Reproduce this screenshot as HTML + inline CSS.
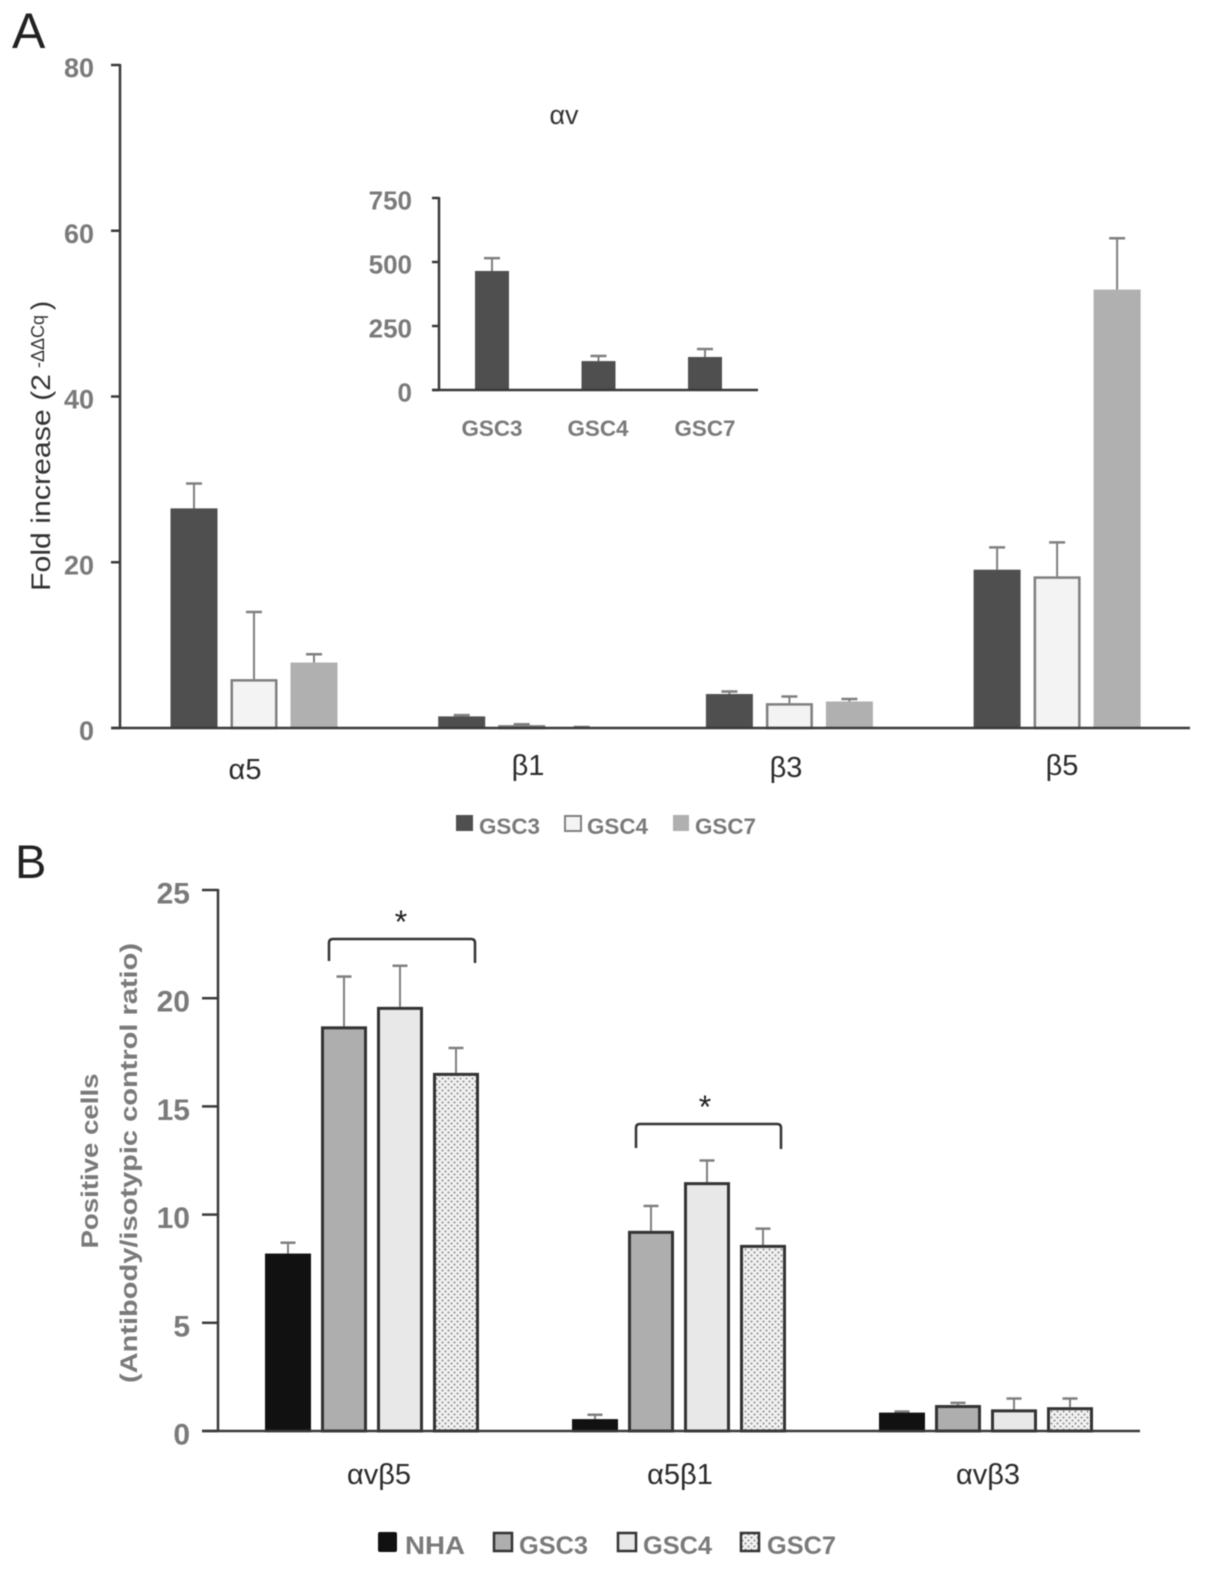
<!DOCTYPE html>
<html lang="en">
<head>
<meta charset="utf-8">
<title>Integrin expression charts</title>
<style>
html,body{margin:0;padding:0;background:#fff;}
svg{display:block;font-family:"Liberation Sans",sans-serif;filter:blur(0.5px);}
.tick{font-weight:700;fill:#7a7a7a;text-anchor:end;}
.cat{fill:#2b2b2b;font-size:29px;text-anchor:middle;}
.leg{font-weight:700;fill:#7a7a7a;}
</style>
</head>
<body>
<svg id="fig" xmlns="http://www.w3.org/2000/svg" width="1205" height="1569" viewBox="0 0 1205 1569">
  <defs>
    <pattern id="dots" width="6" height="6" patternUnits="userSpaceOnUse">
      <rect width="6" height="6" fill="#f1f1f1"/>
      <circle cx="1.5" cy="1.5" r="1" fill="#8c8c8c"/>
      <circle cx="4.5" cy="4.5" r="1" fill="#8c8c8c"/>
    </pattern>
  </defs>
  <rect width="1205" height="1569" fill="#fff"/>

  <text x="12" y="48" font-size="50" fill="#222">A</text>
  <text x="15" y="878" font-size="47" fill="#222">B</text>

  <text transform="translate(50,591) rotate(-90)" font-size="27" fill="#333"><tspan textLength="217" lengthAdjust="spacingAndGlyphs">Fold increase (2</tspan><tspan font-size="18" dy="-6" dx="6">-ΔΔCq</tspan><tspan dy="6" dx="5">)</tspan></text>

  <text x="564" y="124" font-size="27" fill="#333" text-anchor="middle">αv</text>

  <g>
    <text class="cat" x="245" y="779">α5</text>
    <text class="cat" x="528" y="775">β1</text>
    <text class="cat" x="786" y="777">β3</text>
    <text class="cat" x="1062" y="775">β5</text>
  </g>

  <g font-weight="700" fill="#7a7a7a" font-size="22" text-anchor="middle">
    <text x="492" y="436" textLength="61" lengthAdjust="spacingAndGlyphs">GSC3</text>
    <text x="598" y="436" textLength="61" lengthAdjust="spacingAndGlyphs">GSC4</text>
    <text x="705" y="436" textLength="61" lengthAdjust="spacingAndGlyphs">GSC7</text>
  </g>

  <g>
    <rect x="456" y="815" width="17" height="16" fill="#4f4f4f"/>
    <text class="leg" x="479" y="834" font-size="22" textLength="61" lengthAdjust="spacingAndGlyphs">GSC3</text>
    <rect x="565" y="816" width="16" height="15" fill="#f4f4f4" stroke="#808080" stroke-width="2"/>
    <text class="leg" x="587" y="834" font-size="22" textLength="61" lengthAdjust="spacingAndGlyphs">GSC4</text>
    <rect x="673" y="815" width="16" height="16" fill="#b0b0b0"/>
    <text class="leg" x="695" y="834" font-size="22" textLength="61" lengthAdjust="spacingAndGlyphs">GSC7</text>
  </g>

  <g font-weight="700" fill="#7a7a7a" font-size="24" text-anchor="middle">
    <text transform="translate(98,1161) rotate(-90)" textLength="175" lengthAdjust="spacingAndGlyphs">Positive cells</text>
    <text transform="translate(137,1163) rotate(-90)" textLength="440" lengthAdjust="spacingAndGlyphs">(Antibody/isotypic control ratio)</text>
  </g>

  <g fill="none" stroke="#333" stroke-width="2.5">
    <path d="M329 961 V943 Q329 939 333 939 H471 Q475 939 475 943 V963"/>
    <path d="M636 1148 V1128 Q636 1124 640 1124 H777 Q781 1124 781 1128 V1149"/>
  </g>
  <text x="401" y="933" font-size="32" fill="#222" text-anchor="middle">*</text>
  <text x="705" y="1118" font-size="32" fill="#222" text-anchor="middle">*</text>

  <g>
    <text class="cat" x="379" y="1484">αvβ5</text>
    <text class="cat" x="680" y="1484">α5β1</text>
    <text class="cat" x="988" y="1484">αvβ3</text>
  </g>

  <g>
    <rect x="378" y="1532" width="19" height="20" rx="2" fill="#111"/>
    <text class="leg" x="405" y="1554" font-size="25" textLength="60" lengthAdjust="spacingAndGlyphs">NHA</text>
    <rect x="494" y="1533" width="18" height="18" fill="#aeaeae" stroke="#333" stroke-width="2.5"/>
    <text class="leg" x="519" y="1554" font-size="25" textLength="69" lengthAdjust="spacingAndGlyphs">GSC3</text>
    <rect x="618" y="1533" width="18" height="18" fill="#e8e8e8" stroke="#333" stroke-width="2.5"/>
    <text class="leg" x="643" y="1554" font-size="25" textLength="69" lengthAdjust="spacingAndGlyphs">GSC4</text>
    <rect x="741" y="1533" width="18" height="18" fill="url(#dots)" stroke="#333" stroke-width="2.5"/>
    <text class="leg" x="767" y="1554" font-size="25" textLength="69" lengthAdjust="spacingAndGlyphs">GSC7</text>
  </g>

  <g id="plots"></g>
</svg>
<script>
// Panel A main chart
const aCategories = ['alpha5', 'beta1', 'beta3', 'beta5'];
const aSeriesNames = ['gsc3', 'gsc4', 'gsc7'];
const aGsc3 = [26.5, 1.4, 4.1, 19.1];
const aGsc4 = [5.9, 0.35, 3.0, 18.3];
const aGsc7 = [7.9, 0.1, 3.2, 52.9];
const aGsc3Err = [29.5, 1.55, 4.4, 21.8];
const aGsc4Err = [14.0, 0.45, 3.8, 22.4];
const aGsc7Err = [8.9, 0.12, 3.5, 59.1];
const aTicks = [0, 20, 40, 60, 80];

// Panel A inset
const insetCategories = ['gsc3', 'gsc4', 'gsc7'];
const insetValues = [465, 113, 129];
const insetErr = [515, 133, 160];
const insetTicks = [0, 250, 500, 750];

// Panel B chart
const bCategories = ['avb5', 'a5b1', 'avb3'];
const bSeriesNames = ['nha', 'gsc3', 'gsc4', 'gsc7'];
const bNha = [8.2, 0.55, 0.85];
const bGsc3 = [18.7, 9.25, 1.2];
const bGsc4 = [19.6, 11.5, 1.0];
const bGsc7 = [16.55, 8.6, 1.1];
const bNhaErr = [8.7, 0.75, 0.9];
const bGsc3Err = [21.0, 10.4, 1.3];
const bGsc4Err = [21.5, 12.5, 1.5];
const bGsc7Err = [17.7, 9.35, 1.5];
const bTicks = [0, 5, 10, 15, 20, 25];

const NS = 'http://www.w3.org/2000/svg';
const plots = document.getElementById('plots');

function make(tag, attrs, name) {
  const el = document.createElementNS(NS, tag);
  for (const k in attrs) el.setAttribute(k, attrs[k]);
  
  
  plots.appendChild(el);
  return el;
}
function line(x1, y1, x2, y2, color, w, name) {
  return make('line', {x1: x1, y1: y1, x2: x2, y2: y2, stroke: color, 'stroke-width': w}, name);
}
function linear(d0, d1, r0, r1) {
  return function (v) { return r0 + (v - d0) * (r1 - r0) / (d1 - d0); };
}
function drawBar(cx, y, y0, w, style, name) {
  const inset = style.stroke ? style.sw / 2 : 0;
  const attrs = {x: cx - w / 2 + inset, y: y + inset, width: w - 2 * inset, height: Math.max(y0 - y - inset, 0.5), fill: style.fill};
  if (style.stroke) {
    attrs.stroke = style.stroke;
    attrs['stroke-width'] = style.sw;
  }
  make('rect', attrs, name);
}
function drawErr(cx, yTop, yBar, cap, name) {
  line(cx, yBar, cx, yTop, '#7f7f7f', 2, name + '-stem');
  line(cx - cap / 2, yTop, cx + cap / 2, yTop, '#7f7f7f', 2.5, name + '-cap');
}
function drawYAxis(axisX, y0Pix, topPix, ticks, yScale, tickLen, labelX, prefix, color, fontSize) {
  line(axisX, topPix - 1, axisX, y0Pix + 1, color, 2.5, prefix + '-y-axis');
  ticks.forEach(function (t) {
    const y = yScale(t);
    line(axisX - tickLen, y, axisX, y, color, 2.5, prefix + '-y-tick-' + t);
    const lab = make('text', {x: labelX, y: y + fontSize * 0.45, class: 'tick', 'font-size': fontSize}, prefix + '-y-label-' + t);
    lab.textContent = String(t);
  });
}

// --- Panel A main ---
const yA = linear(0, 80, 728, 65);
const aCenter = function (i) { return 254 + i * 267.7; };
const aStyles = [
  {fill: '#4f4f4f'},
  {fill: '#f3f3f3', stroke: '#7f7f7f', sw: 2.5},
  {fill: '#b0b0b0'}
];
const aVals = [aGsc3, aGsc4, aGsc7];
const aErrs = [aGsc3Err, aGsc4Err, aGsc7Err];
aCategories.forEach(function (cat, i) {
  aSeriesNames.forEach(function (s, j) {
    const cx = aCenter(i) + (j - 1) * 60;
    drawErr(cx, yA(aErrs[j][i]), yA(aVals[j][i]), 16, 'error-' + cat + '-' + s);
    drawBar(cx, yA(aVals[j][i]), yA(0), 47, aStyles[j], 'bar-' + cat + '-' + s);
  });
});
drawYAxis(120, 728, 65, aTicks, yA, 9, 94, 'chart-a', '#3a3a3a', 27);
line(112, 728, 1190, 728, '#3a3a3a', 2.5, 'chart-a-x-axis');

// --- Inset ---
const yI = linear(0, 750, 390, 198);
const iCenter = function (i) { return 492 + i * 106.5; };
insetCategories.forEach(function (cat, i) {
  drawErr(iCenter(i), yI(insetErr[i]), yI(insetValues[i]), 16, 'inset-error-' + cat);
  drawBar(iCenter(i), yI(insetValues[i]), yI(0), 34, {fill: '#4f4f4f'}, 'inset-bar-' + cat);
});
drawYAxis(439, 390, 198, insetTicks, yI, 7, 412, 'inset', '#3a3a3a', 26);
line(432, 390, 758, 390, '#3a3a3a', 2.5, 'inset-x-axis');

// --- Panel B ---
const yB = linear(0, 25, 1431, 890);
const bCenter = function (i) { return 372 + i * 307; };
const bStyles = [
  {fill: '#111', stroke: '#111', sw: 2.5},
  {fill: '#aeaeae', stroke: '#333', sw: 3},
  {fill: '#e8e8e8', stroke: '#333', sw: 3},
  {fill: 'url(#dots)', stroke: '#333', sw: 3}
];
const bVals = [bNha, bGsc3, bGsc4, bGsc7];
const bErrs = [bNhaErr, bGsc3Err, bGsc4Err, bGsc7Err];
bCategories.forEach(function (cat, i) {
  bSeriesNames.forEach(function (s, j) {
    const cx = bCenter(i) + (j - 1.5) * 56;
    drawErr(cx, yB(bErrs[j][i]), yB(bVals[j][i]), 15, 'error-' + cat + '-' + s);
    drawBar(cx, yB(bVals[j][i]), yB(0), 46, bStyles[j], 'bar-' + cat + '-' + s);
  });
});
drawYAxis(218, 1431, 890, bTicks, yB, 16, 190, 'chart-b', '#3a3a3a', 30);
line(202, 1431, 1140, 1431, '#3a3a3a', 2.5, 'chart-b-x-axis');
</script>
</body>
</html>
